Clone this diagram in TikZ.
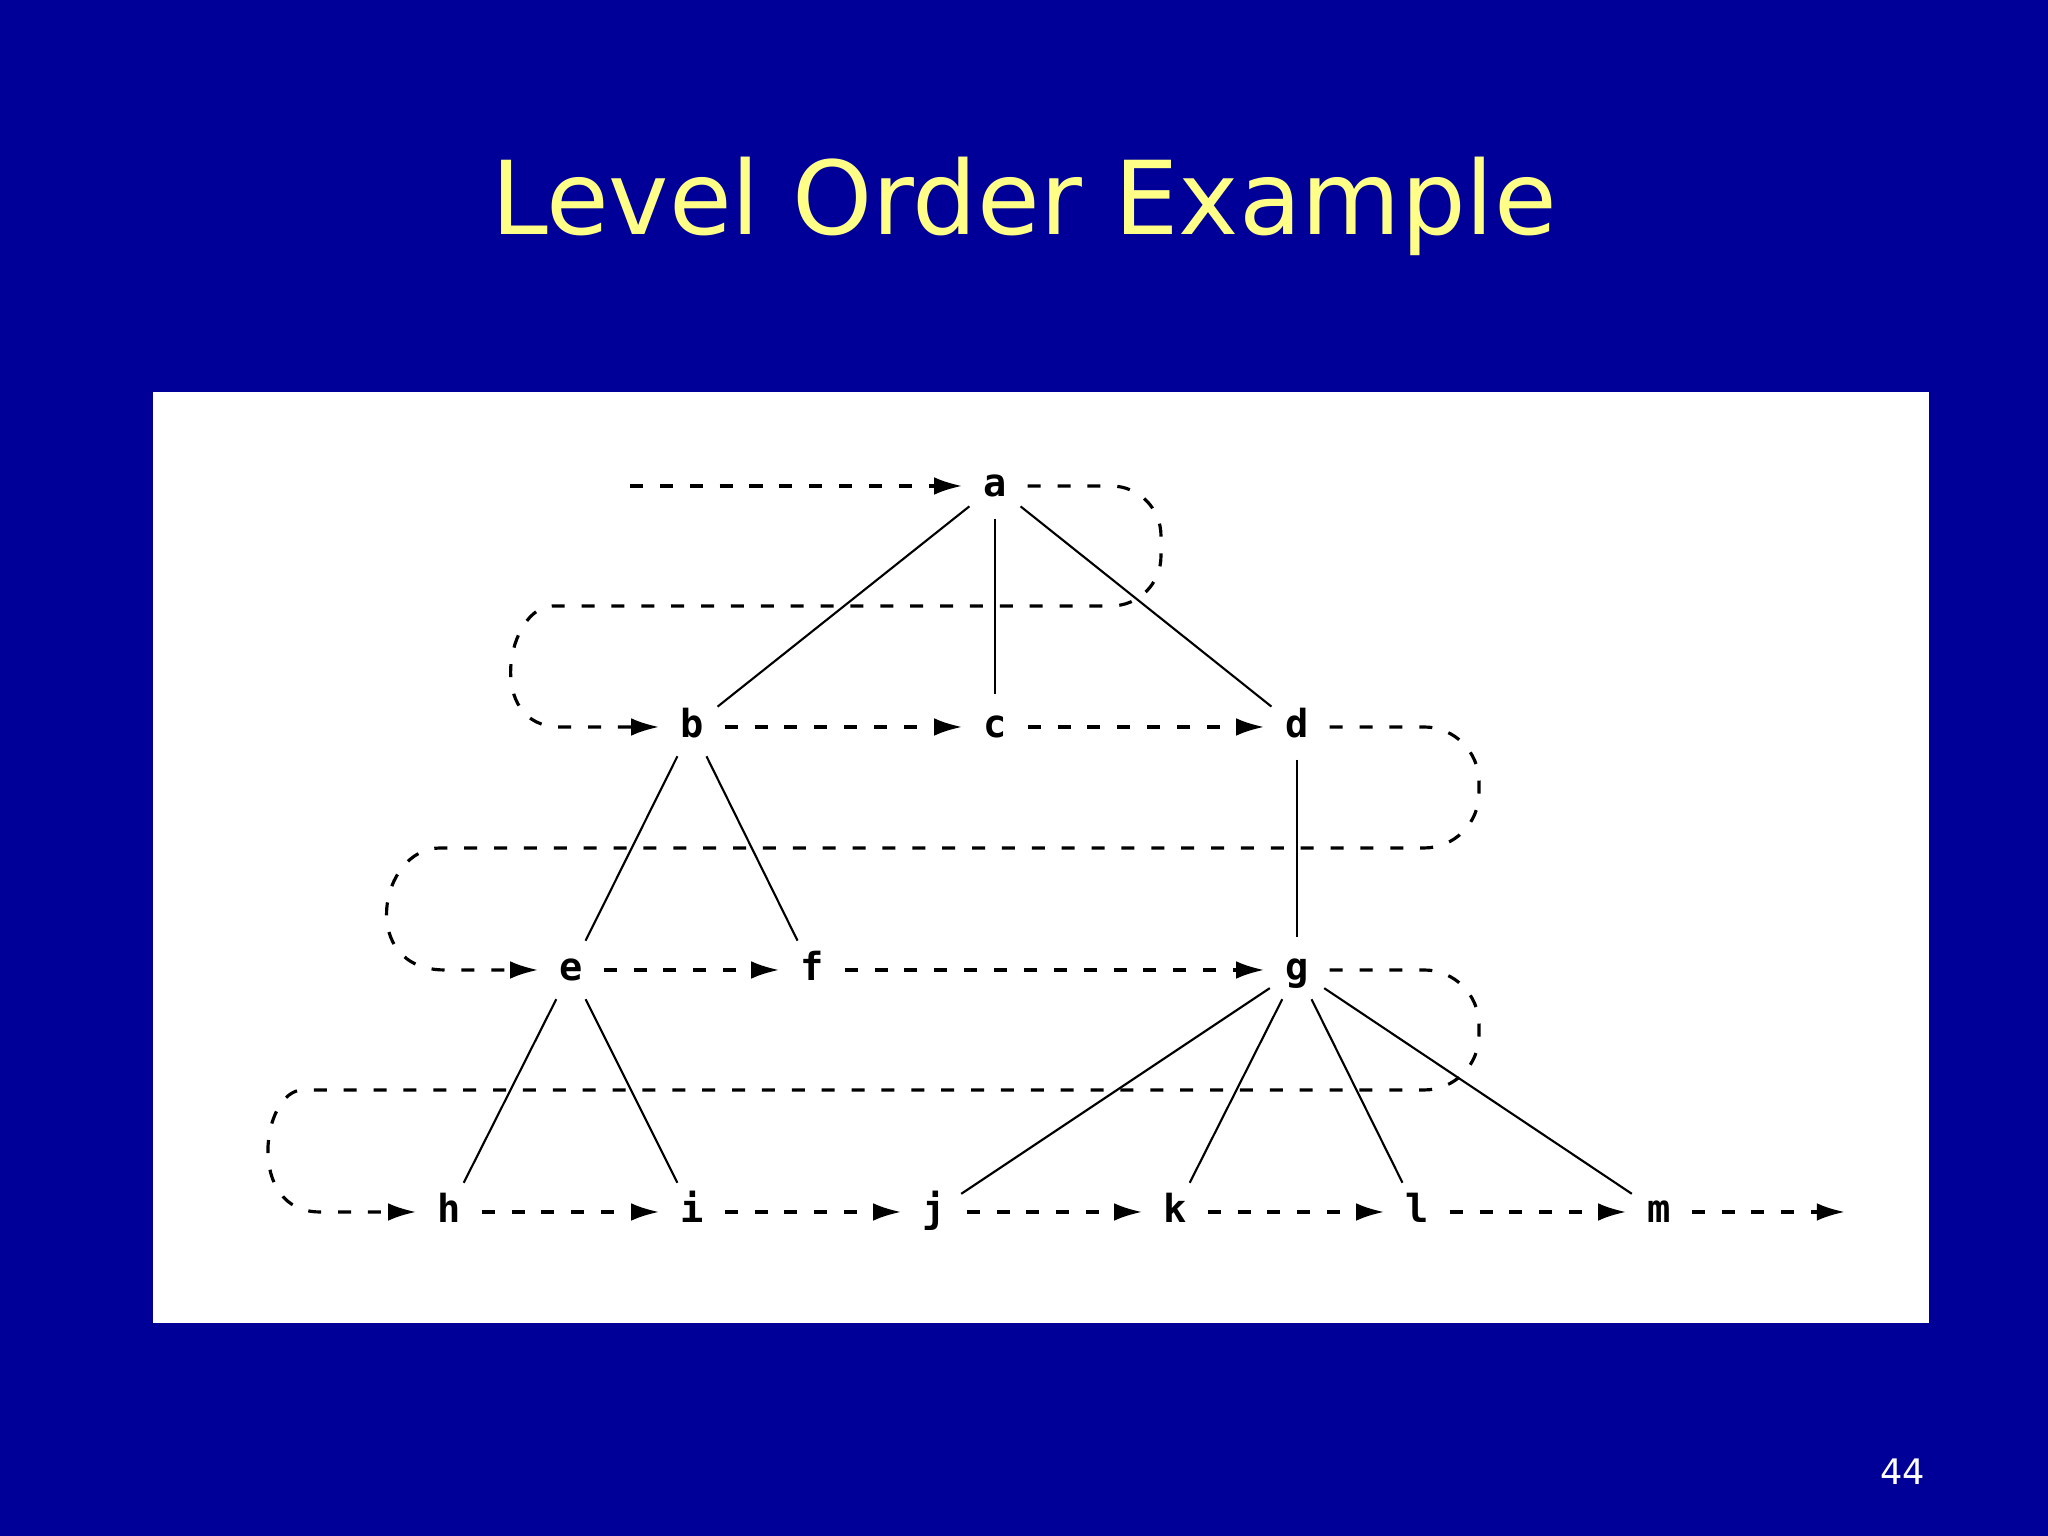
\documentclass[tikz,border=0pt]{standalone}
\usepackage{fontspec}
\setmainfont{DejaVu Sans}
\newfontfamily\treefont{DejaVu Sans Mono}
\usetikzlibrary{arrows.meta}
\definecolor{slideblue}{RGB}{0,0,153}
\definecolor{titleyellow}{RGB}{255,255,136}

\begin{document}
\begin{tikzpicture}[
  letter/.style={circle, minimum size=0.64cm, inner sep=0pt, text height=0.22cm, text depth=0pt,
    font=\treefont\bfseries\fontsize{11}{13}\selectfont},
  edge/.style={line width=0.6pt},
  walk/.style={line width=0.9pt, dash pattern=on 3.7pt off 4.8pt, -{Latex[length=8pt,width=5pt]}}
]
\fill[slideblue] (0,0) rectangle (20.48,15.36);
\fill[white] (1.53,2.13) rectangle (19.29,11.44);

\node[titleyellow, anchor=base, font=\fontsize{29}{35}\selectfont] (title) at (10.24,13.01) {Level Order Example};
\node[white, anchor=base, font=\fontsize{10}{12}\selectfont] (pageno) at (19.03,0.51) {44};

\draw
(9.95, 10.50) node[letter](a){a}
(6.92, 8.09) node[letter](b){b}
(9.95, 8.09) node[letter](c){c}
(12.97, 8.09) node[letter](d){d}
(5.71, 5.66) node[letter](e){e}
(8.12, 5.66) node[letter](f){f}
(12.97, 5.66) node[letter](g){g}
(4.49, 3.24) node[letter](h){h}
(6.92, 3.24) node[letter](i){i}
(9.34, 3.24) node[letter](j){j}
(11.75, 3.24) node[letter](k){k}
(14.17, 3.24) node[letter](l){l}
(16.59, 3.24) node[letter](m){m};

\coordinate (start) at (6.30, 10.50);
\coordinate (finish) at (18.45, 3.24);

\draw[edge] (a) -- (b);
\draw[edge] (a) -- (c);
\draw[edge] (a) -- (d);
\draw[edge] (b) -- (e);
\draw[edge] (b) -- (f);
\draw[edge] (d) -- (g);
\draw[edge] (e) -- (h);
\draw[edge] (e) -- (i);
\draw[edge] (g) -- (j);
\draw[edge] (g) -- (k);
\draw[edge] (g) -- (l);
\draw[edge] (g) -- (m);

\draw[walk] (start) -- (a);
\draw[walk] (a) [rounded corners=0.5cm] -- ++(1.66,0) -- ++(0,-1.20) -- ++(-5.58,0) [sharp corners]
  to[out=180, in=180, out looseness=1.92, in looseness=1.51] ++(-0.43,-1.21) -- (b);
\draw[walk] (b) -- (c);
\draw[walk] (c) -- (d);
\draw[walk] (d) [rounded corners=0.55cm] -- ++(1.82,0) -- ++(0,-1.21) -- ++(-9.84,0) [sharp corners]
  to[out=180, in=180, out looseness=2.25, in looseness=1.70] ++(-0.50,-1.22) -- (e);
\draw[walk] (e) -- (f);
\draw[walk] (f) -- (g);
\draw[walk] (g) [rounded corners=0.55cm] -- ++(1.82,0) -- ++(0,-1.20) -- ++(-11.21,0) [sharp corners]
  to[out=180, in=180, out looseness=1.93, in looseness=1.50] ++(-0.38,-1.22) -- (h);
\draw[walk] (h) -- (i);
\draw[walk] (i) -- (j);
\draw[walk] (j) -- (k);
\draw[walk] (k) -- (l);
\draw[walk] (l) -- (m);
\draw[walk] (m) -- (finish);

\end{tikzpicture}
\end{document}
